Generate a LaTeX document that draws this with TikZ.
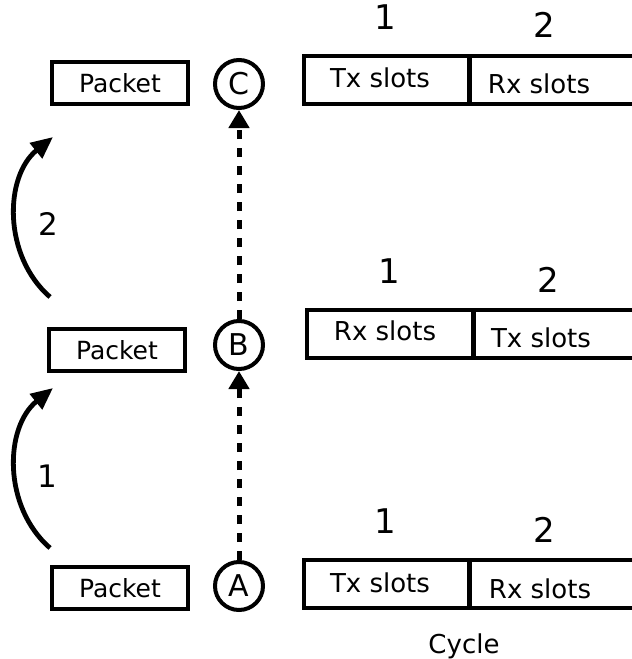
\documentclass[tikz,border=0pt]{standalone}
\usepackage{fontspec}
\setmainfont{DejaVu Sans}
\usetikzlibrary{arrows.meta}

\tikzset{
  packet/.style={draw, line width=2.3pt, minimum width=68pt, minimum height=21pt, inner sep=0pt, font=\fontsize{12.5}{13}\selectfont},
  station/.style={draw, circle, line width=2pt, minimum size=24pt, inner sep=0pt, font=\fontsize{15}{16}\selectfont},
  frame/.style={line width=2.3pt},
  slotlabel/.style={anchor=base, inner sep=0pt, font=\fontsize{13}{14}\selectfont},
  slotnum/.style={anchor=base, inner sep=0pt, font=\fontsize{17}{18}\selectfont},
  hopnum/.style={anchor=base, inner sep=0pt, font=\fontsize{15.5}{16}\selectfont},
  hop/.style={-{Triangle[length=11pt,width=9.5pt]}, line width=2.4pt, bend left=50},
  relay/.style={-{Triangle[length=9pt,width=10pt]}, line width=2.5pt, dash pattern=on 4.5pt off 4.5pt},
}

\begin{document}
\begin{tikzpicture}[x=0.5pt,y=-0.5pt]
    \useasboundingbox (0,0) rectangle (632,659);
    \clip (0,0) rectangle (632,659);

    % Stations
    \node[station] (A) at (239,586) {A};
    \node[station] (B) at (239,345) {B};
    \node[station] (C) at (239,84) {C};

    % Packets (text sits a little left of centre)
    \node[packet] (pktA) at (120,588) {Packet\hspace{5pt}};
    \node[packet] (pktB) at (117,350) {Packet\hspace{5pt}};
    \node[packet] (pktC) at (120,83) {Packet\hspace{5pt}};

    % Forwarding
    \draw[relay] (A) -- (B);
    \draw[relay] (B) -- (C);

    \coordinate (hop1s) at (50,548);
    \coordinate (hop1e) at (53,388);
    \draw[hop] (hop1s) to (hop1e);
    \node[hopnum] (hopnum1) at (47,487) {1};

    \coordinate (hop2s) at (50,297);
    \coordinate (hop2e) at (53,137);
    \draw[hop] (hop2s) to (hop2e);
    \node[hopnum] (hopnum2) at (48,235) {2};

    % Cycle of C
    \draw[frame] (304,56) rectangle (700,104);
    \draw[frame] (469.5,56) -- (469.5,104);
    \node[slotlabel] (txC) at (380,87) {Tx slots};
    \node[slotlabel] (rxC) at (539,93) {Rx slots};
    \node[slotnum] (oneC) at (385,29) {1};
    \node[slotnum] (twoC) at (544,37) {2};

    % Cycle of B
    \draw[frame] (307,310) rectangle (700,358);
    \draw[frame] (473.5,310) -- (473.5,358);
    \node[slotlabel] (rxB) at (385,340) {Rx slots};
    \node[slotlabel] (txB) at (541,347) {Tx slots};
    \node[slotnum] (oneB) at (389,283) {1};
    \node[slotnum] (twoB) at (548,292) {2};

    % Cycle of A
    \draw[frame] (304,560) rectangle (700,608);
    \draw[frame] (469.5,560) -- (469.5,608);
    \node[slotlabel] (txA) at (380,592) {Tx slots};
    \node[slotlabel] (rxA) at (540,598) {Rx slots};
    \node[slotnum] (oneA) at (385,533) {1};
    \node[slotnum] (twoA) at (544,542) {2};

    \node[slotlabel] (cycle) at (464,653) {Cycle};
\end{tikzpicture}
\end{document}
